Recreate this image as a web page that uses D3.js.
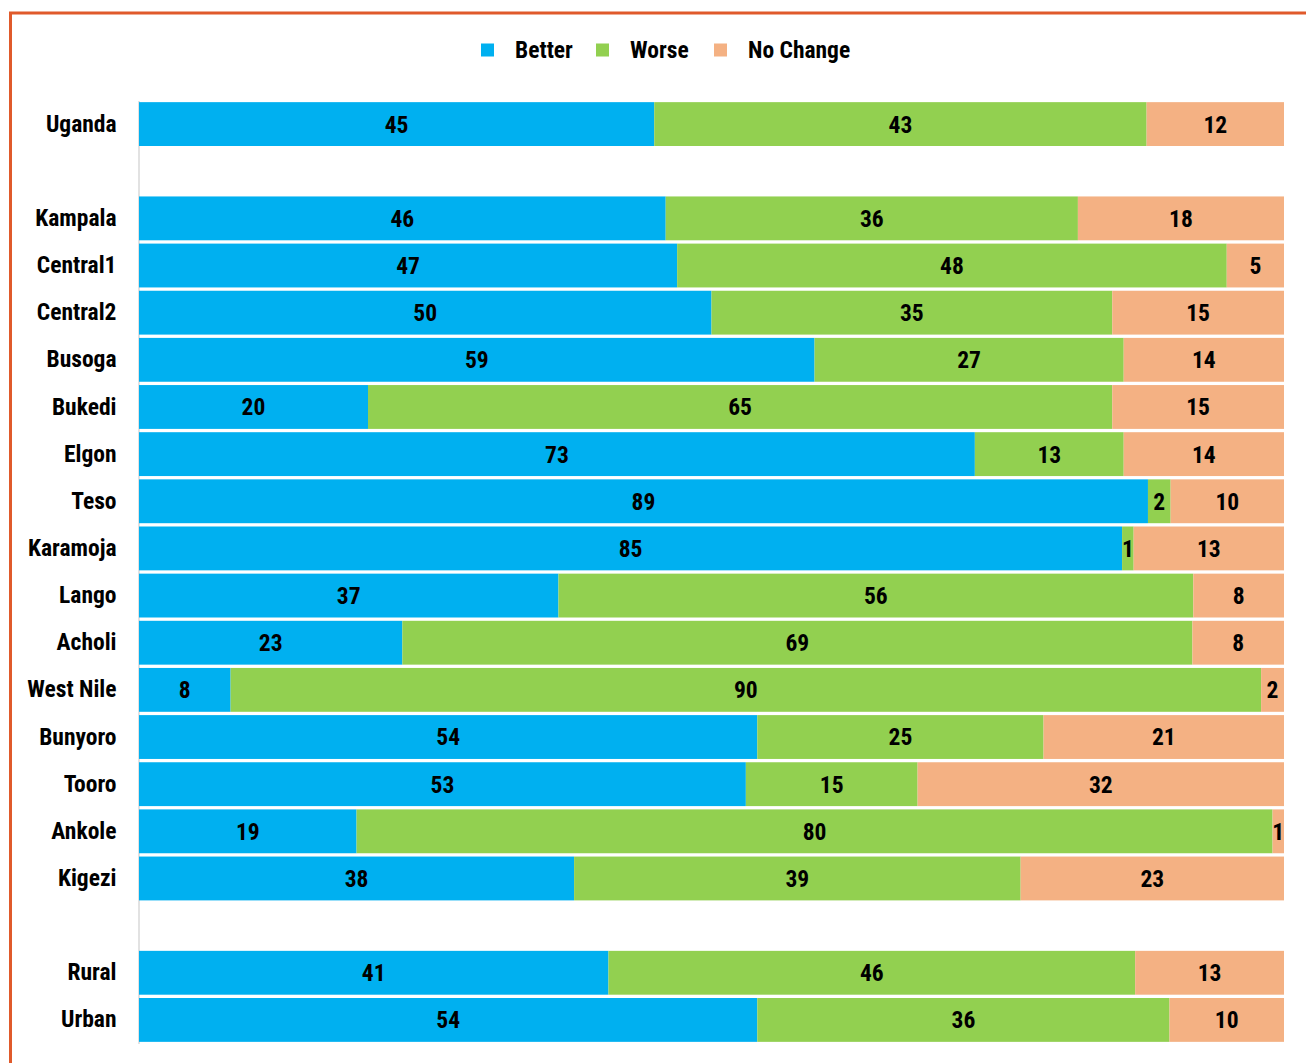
<!DOCTYPE html>
<html lang="en">
<head>
    <meta charset="UTF-8">
    <title>Better / Worse / No Change by region</title>
    <style>
        html, body { margin: 0; padding: 0; background: #fff; }
        svg { display: block; }
        text { font-family: "Liberation Sans Narrow", "Arial Narrow", "Roboto Condensed", sans-serif; font-weight: bold; }
    </style>
</head>
<body>
    <div id="chart"></div>
    <script src="https://d3js.org/d3.v7.min.js"></script>
    <script>
        // Data (blank entries are spacer rows)
        const regions = ["Uganda", "", "Kampala", "Central1", "Central2", "Busoga", "Bukedi", "Elgon", "Teso",
            "Karamoja", "Lango", "Acholi", "West Nile", "Bunyoro", "Tooro", "Ankole", "Kigezi", "", "Rural", "Urban"];
        const better   = [45, null, 46, 47, 50, 59, 20, 73, 89, 85, 37, 23, 8, 54, 53, 19, 38, null, 41, 54];
        const worse    = [43, null, 36, 48, 35, 27, 65, 13, 2, 1, 56, 69, 90, 25, 15, 80, 39, null, 46, 36];
        const noChange = [12, null, 18, 5, 15, 14, 15, 14, 10, 13, 8, 8, 2, 21, 32, 1, 23, null, 13, 10];

        const seriesNames = ["Better", "Worse", "No Change"];
        const seriesColors = ["#00b0f0", "#92d050", "#f4b183"];

        const width = 1306, height = 1063;
        const margin = { top: 100.5, right: 22, bottom: 19.5, left: 139 };
        const fontSize = "23.5px";

        const svg = d3.select("#chart").append("svg")
            .attr("width", width)
            .attr("height", height);

        // Orange frame (top and left edges visible)
        svg.append("path")
            .attr("d", `M10.5,${height} V13 H${width}`)
            .attr("fill", "none")
            .attr("stroke", "#e05a2b")
            .attr("stroke-width", 3);

        const rows = regions.map((r, i) => ({
            key: "row" + i,
            label: r,
            values: better[i] == null ? null : [better[i], worse[i], noChange[i]]
        }));

        const y = d3.scaleBand()
            .domain(rows.map(d => d.key))
            .range([margin.top, height - margin.bottom])
            .paddingInner(0.07)
            .paddingOuter(0.035);

        const x = d3.scaleLinear()
            .domain([0, 1])
            .range([margin.left, width - margin.right]);

        // Category axis
        const yAxis = svg.append("g")
            .attr("transform", `translate(${margin.left - 0.5},0)`)
            .call(d3.axisLeft(y)
                .tickSize(0)
                .tickPadding(22)
                .tickFormat(k => rows.find(r => r.key === k).label));
        yAxis.select(".domain").attr("stroke", "#d9d9d9").attr("stroke-width", 1.5);
        yAxis.selectAll("text")
            .attr("fill", "#000")
            .style("font-size", fontSize);

        // Stacked segments
        const segs = [];
        rows.filter(r => r.values).forEach(r => {
            const total = d3.sum(r.values);
            let acc = 0;
            r.values.forEach((v, j) => {
                segs.push({ key: r.key, j, v, x0: acc / total, x1: (acc + v) / total });
                acc += v;
            });
        });

        const g = svg.append("g");
        g.selectAll("rect")
            .data(segs)
            .join("rect")
            .attr("x", d => x(d.x0))
            .attr("y", d => y(d.key))
            .attr("width", d => x(d.x1) - x(d.x0))
            .attr("height", y.bandwidth())
            .attr("fill", d => seriesColors[d.j]);

        g.selectAll("text")
            .data(segs)
            .join("text")
            .attr("x", d => (x(d.x0) + x(d.x1)) / 2)
            .attr("y", d => y(d.key) + y.bandwidth() / 2)
            .attr("dy", "0.36em")
            .attr("text-anchor", "middle")
            .style("font-size", fontSize)
            .attr("fill", "#000")
            .text(d => d.v);

        // Legend
        const legendX = [481, 596, 714];
        const legend = svg.append("g")
            .selectAll("g")
            .data(seriesNames)
            .join("g")
            .attr("transform", (d, i) => `translate(${legendX[i]},50)`);
        legend.append("rect")
            .attr("x", 0).attr("y", -6.5)
            .attr("width", 13).attr("height", 13)
            .attr("fill", (d, i) => seriesColors[i]);
        legend.append("text")
            .attr("x", 34)
            .attr("dy", "0.36em")
            .style("font-size", fontSize)
            .attr("fill", "#000")
            .text(d => d);
    </script>
</body>
</html>
